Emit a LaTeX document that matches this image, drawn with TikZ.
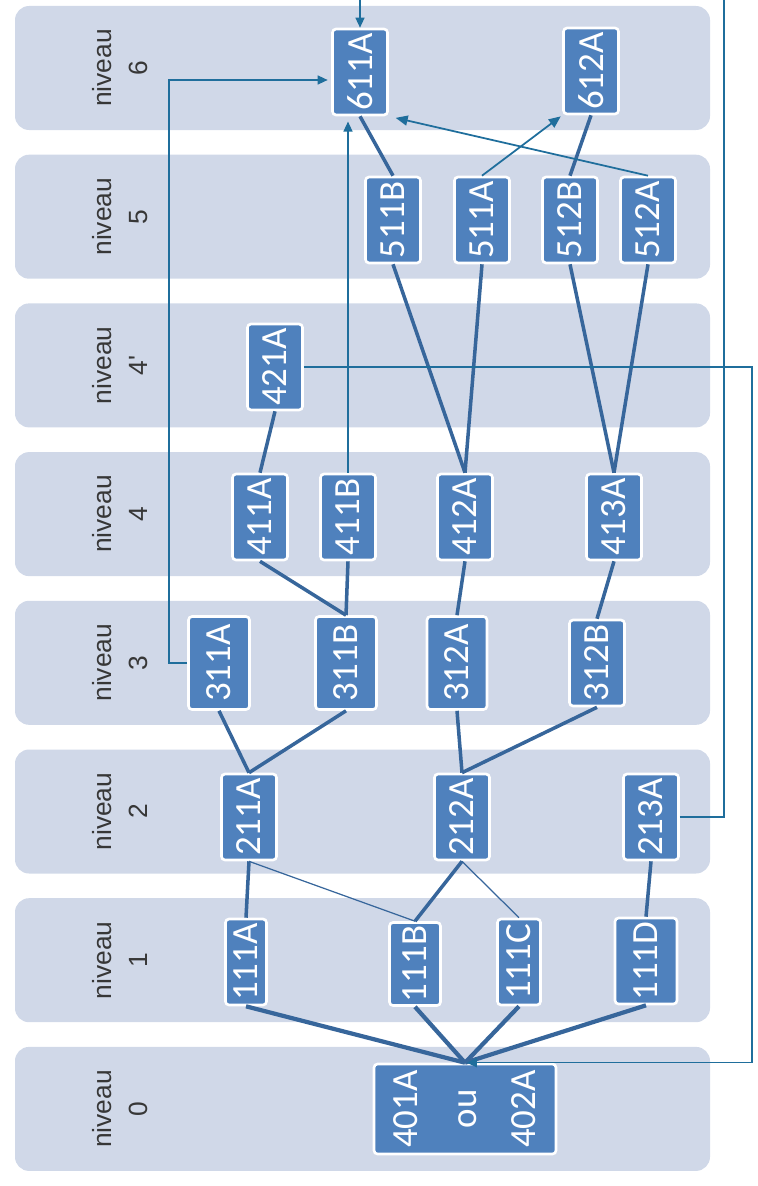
\documentclass[tikz,border=0pt]{standalone}
\usepackage{fontspec}
\setmainfont{Carlito}
\newfontfamily\lblfont{Liberation Sans}
\usetikzlibrary{arrows.meta, calc}
\definecolor{bandcolor}{RGB}{208,216,232}
\definecolor{boxcolor}{RGB}{79,129,189}
\definecolor{linkcolor}{RGB}{55,102,155}
\definecolor{routecolor}{RGB}{31,110,156}
\definecolor{labelgray}{RGB}{55,55,55}
\newcommand{\vtxt}[1]{\rotatebox{90}{#1}}

\begin{document}
\begin{tikzpicture}[
    x=0.02cm, y=-0.02cm,
    band/.style={fill=bandcolor, draw=none, rounded corners=8pt},
    lvl/.style={text=labelgray, font=\lblfont\fontsize{15}{20.5}\selectfont, align=center, rotate=90},
    box/.style={draw=white, line width=1.5pt, fill=boxcolor, rounded corners=2pt, text=white, minimum width=1.1cm, minimum height=1.72cm, inner sep=0pt, font=\fontsize{21}{24}\selectfont},
    link/.style={draw=linkcolor, line width=2pt},
    baselink/.style={draw=linkcolor, line width=2.4pt},
    thinlink/.style={draw=linkcolor, line width=0.7pt},
    route/.style={draw=routecolor, line width=0.75pt, -{Triangle[length=2mm, width=1.8mm]}},
    jump/.style={draw=routecolor, line width=1pt, -{Triangle[length=2.4mm, width=2mm]}}
]
    \useasboundingbox (0,0) rectangle (757,1186);

    % Levels
    \foreach \k/\t in {0/6, 1/5, 2/4', 3/4, 4/3, 5/2, 6/1, 7/0} {
        \fill[band] (15,6+148.7*\k) rectangle (710,130+148.7*\k);
        \node[lvl] (lab\k) at (120,68+148.7*\k) {niveau\\\t};
    }

    % Boxes
    \node[box] (n611A) at (360,72) {\vtxt{611A}};
    \node[box] (n612A) at (591,71) {\vtxt{612A}};
    \node[box] (n511B) at (393,220) {\vtxt{511B}};
    \node[box] (n511A) at (482,220) {\vtxt{511A}};
    \node[box] (n512B) at (570,220) {\vtxt{512B}};
    \node[box] (n512A) at (648,220) {\vtxt{512A}};
    \node[box] (n421A) at (275,367) {\vtxt{421A}};
    \node[box] (n411A) at (260,517) {\vtxt{411A}};
    \node[box] (n411B) at (348,517) {\vtxt{411B}};
    \node[box] (n412A) at (465,517) {\vtxt{412A}};
    \node[box] (n413A) at (614,517) {\vtxt{413A}};
    \node[box, minimum width=1.22cm, minimum height=1.86cm] (n311A) at (219,663) {\vtxt{311A}};
    \node[box, minimum width=1.22cm, minimum height=1.86cm] (n311B) at (346,663) {\vtxt{311B}};
    \node[box, minimum width=1.2cm, minimum height=1.86cm] (n312A) at (457,663) {\vtxt{312A}};
    \node[box] (n312B) at (597,663) {\vtxt{312B}};
    \node[box] (n211A) at (249,817) {\vtxt{211A}};
    \node[box] (n212A) at (462,817) {\vtxt{212A}};
    \node[box] (n213A) at (651,817) {\vtxt{213A}};
    \node[box, minimum width=0.82cm] (n111A) at (246,962) {\vtxt{111A}};
    \node[box, minimum width=1.02cm, minimum height=1.66cm] (n111B) at (415,964) {\vtxt{111B}};
    \node[box, minimum width=0.86cm] (n111C) at (519,962) {\vtxt{111C}};
    \node[box, minimum width=1.24cm] (n111D) at (646,961) {\vtxt{111D}};
    \node[box, minimum width=3.64cm, minimum height=1.8cm, font=\fontsize{21}{33.5}\selectfont] (n401) at (465,1109)
        {\vtxt{\begin{tabular}{@{}c@{}}401A\\ou\\402A\end{tabular}}};

    % Links
    \draw[link] (n611A.south) -- (n511B.north);
    \draw[link] (n612A.south) -- (n512B.north);
    \draw[link] (n511B.south) -- (n412A.north);
    \draw[link] (n511A.south) -- (n412A.north);
    \draw[link] (n512B.south) -- (n413A.north);
    \draw[link] (n512A.south) -- (n413A.north);
    \draw[link] (n421A.south) -- (n411A.north);
    \draw[link] (n411A.south) -- (n311B.north);
    \draw[link] (n411B.south) -- (n311B.north);
    \draw[link] (n412A.south) -- (n312A.north);
    \draw[link] (n413A.south) -- (n312B.north);
    \draw[link] (n311A.south) -- (n211A.north);
    \draw[link] (n311B.south) -- (n211A.north);
    \draw[link] (n312A.south) -- (n212A.north);
    \draw[link] (n312B.south) -- (n212A.north);
    \draw[link] (n211A.south) -- (n111A.north);
    \draw[thinlink] (n211A.south) -- (n111B.north);
    \draw[link] (n212A.south) -- (n111B.north);
    \draw[thinlink] (n212A.south) -- (n111C.north);
    \draw[link] (n213A.south) -- (n111D.north);
    \foreach \s in {n111A, n111B, n111C, n111D}
        \draw[baselink] (\s.south) -- (n401.north);

    % Jumps
    \coordinate (railL) at (169,80);
    \coordinate (railM) at (724,-30);
    \coordinate (railR) at (752,0);
    \draw[jump, shorten >=1pt] (n511A.north) -- (n612A.south west);
    \draw[jump, shorten >=4pt] (n512A.north) -- (n611A.south east);
    \draw[route, shorten >=3pt] (n411B.north) -- (n411B.north |- n611A.south);
    \draw[route, shorten >=2pt] (n311A.west) -| (railL) -- (n611A.west |- railL);
    \draw[route] (n213A.east) -| (railM) -| (n611A.north);
    \draw[route, shorten >=1pt] (n421A.east) -| (railR |- n401.north) -- (n401.north);
\end{tikzpicture}
\end{document}
